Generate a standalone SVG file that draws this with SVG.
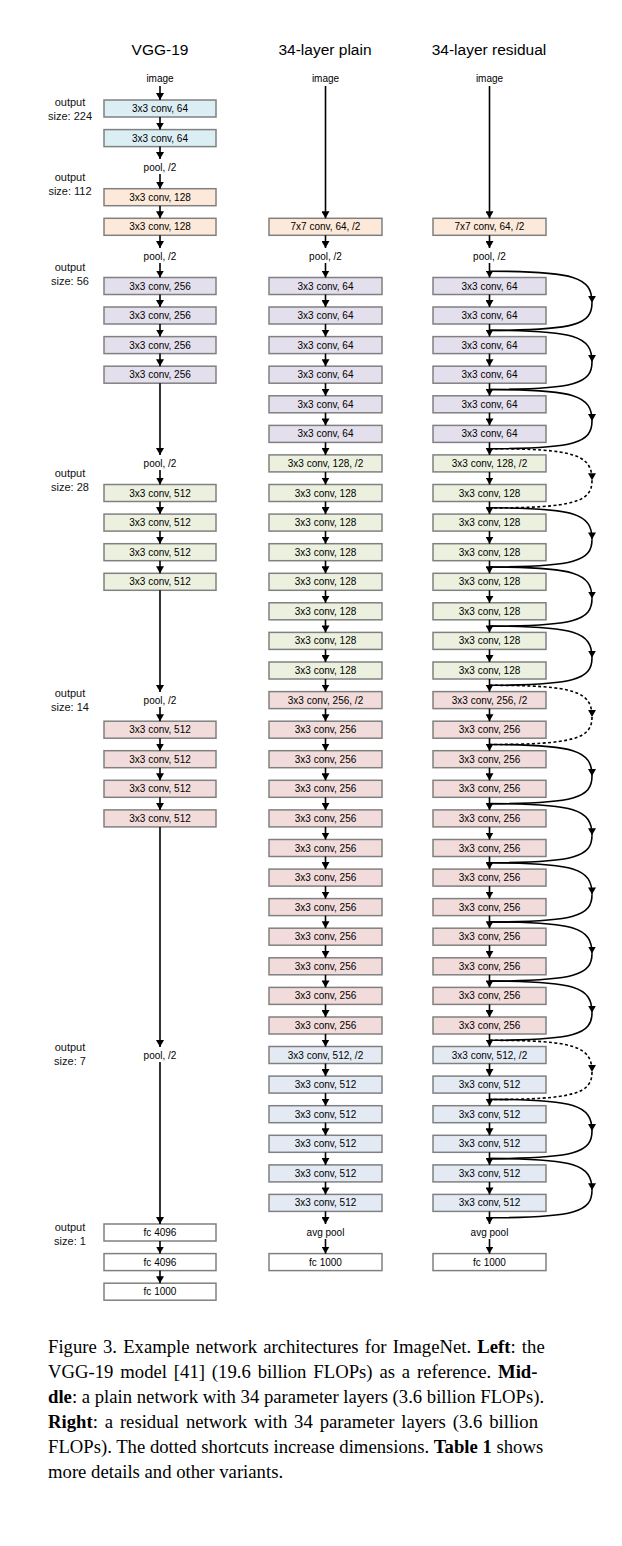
<svg xmlns="http://www.w3.org/2000/svg" width="622" height="1546" viewBox="0 0 622 1546">
<style>
.b{stroke:#808080;stroke-width:1.5}
.blue{fill:#dbeef4}.peach{fill:#fde9d9}.lav{fill:#e4dfec}.green{fill:#ebf1de}.pink{fill:#f2dcdb}.steel{fill:#e3eaf4}.white{fill:#ffffff}
.t{font-family:"Liberation Sans",Arial,sans-serif;font-size:10px;text-anchor:middle;fill:#000}
.lab{font-family:"Liberation Sans",Arial,sans-serif;font-size:11px;text-anchor:middle;fill:#111}
.title{font-family:"Liberation Sans",Arial,sans-serif;font-size:15.5px;text-anchor:middle;fill:#000}
.a{fill:none;stroke:#000;stroke-width:1.6;marker-end:url(#ah)}
.s{fill:none;stroke:#000;stroke-width:1.6}
.d{stroke-dasharray:3,2.4}
.cap{font-family:"Liberation Serif","Times New Roman",serif;font-size:18.7px;fill:#000}
.bold{font-weight:bold}
</style>
<defs>
<marker id="ah" viewBox="0 0 7 8" refX="7" refY="4" markerWidth="7" markerHeight="8" markerUnits="userSpaceOnUse" orient="auto"><path d="M0,0L7,4L0,8z" fill="#000"/></marker>
</defs>
<rect width="622" height="1546" fill="#fff"/>

<g id="titles">
<text class="title" x="160" y="55">VGG-19</text>
<text class="title" x="325" y="55">34-layer plain</text>
<text class="title" x="489" y="55">34-layer residual</text>
</g>

<g id="output-labels">
<text class="lab" x="70" y="105.5">output</text><text class="lab" x="70" y="119.5">size: 224</text>
<text class="lab" x="70" y="181">output</text><text class="lab" x="70" y="195">size: 112</text>
<text class="lab" x="70" y="270.5">output</text><text class="lab" x="70" y="284.5">size: 56</text>
<text class="lab" x="70" y="477">output</text><text class="lab" x="70" y="491">size: 28</text>
<text class="lab" x="70" y="697">output</text><text class="lab" x="70" y="711">size: 14</text>
<text class="lab" x="70" y="1051">output</text><text class="lab" x="70" y="1065">size: 7</text>
<text class="lab" x="70" y="1231">output</text><text class="lab" x="70" y="1245">size: 1</text>
</g>

<!-- VGG-19 column -->
<g id="vgg-image"><text class="t" x="160" y="82.4">image</text></g>
<g id="vgg-conv64-1"><rect class="b blue" x="104" y="100" width="112" height="17"/><text class="t" x="160" y="112">3x3 conv, 64</text></g>
<g id="vgg-conv64-2"><rect class="b blue" x="104" y="129.6" width="112" height="17"/><text class="t" x="160" y="141.6">3x3 conv, 64</text></g>
<g id="vgg-pool1"><text class="t" x="160" y="171.1">pool, /2</text></g>
<g id="vgg-conv128-1"><rect class="b peach" x="104" y="188.7" width="112" height="17"/><text class="t" x="160" y="200.7">3x3 conv, 128</text></g>
<g id="vgg-conv128-2"><rect class="b peach" x="104" y="218.3" width="112" height="17"/><text class="t" x="160" y="230.3">3x3 conv, 128</text></g>
<g id="vgg-pool2"><text class="t" x="160" y="259.9">pool, /2</text></g>
<g id="vgg-conv256-1"><rect class="b lav" x="104" y="277.5" width="112" height="17"/><text class="t" x="160" y="289.5">3x3 conv, 256</text></g>
<g id="vgg-conv256-2"><rect class="b lav" x="104" y="307" width="112" height="17"/><text class="t" x="160" y="319">3x3 conv, 256</text></g>
<g id="vgg-conv256-3"><rect class="b lav" x="104" y="336.6" width="112" height="17"/><text class="t" x="160" y="348.6">3x3 conv, 256</text></g>
<g id="vgg-conv256-4"><rect class="b lav" x="104" y="366.2" width="112" height="17"/><text class="t" x="160" y="378.2">3x3 conv, 256</text></g>
<g id="vgg-pool3"><text class="t" x="160" y="466.9">pool, /2</text></g>
<g id="vgg-conv512a-1"><rect class="b green" x="104" y="484.5" width="112" height="17"/><text class="t" x="160" y="496.5">3x3 conv, 512</text></g>
<g id="vgg-conv512a-2"><rect class="b green" x="104" y="514.1" width="112" height="17"/><text class="t" x="160" y="526.1">3x3 conv, 512</text></g>
<g id="vgg-conv512a-3"><rect class="b green" x="104" y="543.7" width="112" height="17"/><text class="t" x="160" y="555.7">3x3 conv, 512</text></g>
<g id="vgg-conv512a-4"><rect class="b green" x="104" y="573.3" width="112" height="17"/><text class="t" x="160" y="585.3">3x3 conv, 512</text></g>
<g id="vgg-pool4"><text class="t" x="160" y="703.6">pool, /2</text></g>
<g id="vgg-conv512b-1"><rect class="b pink" x="104" y="721.2" width="112" height="17"/><text class="t" x="160" y="733.2">3x3 conv, 512</text></g>
<g id="vgg-conv512b-2"><rect class="b pink" x="104" y="750.7" width="112" height="17"/><text class="t" x="160" y="762.7">3x3 conv, 512</text></g>
<g id="vgg-conv512b-3"><rect class="b pink" x="104" y="780.3" width="112" height="17"/><text class="t" x="160" y="792.3">3x3 conv, 512</text></g>
<g id="vgg-conv512b-4"><rect class="b pink" x="104" y="809.9" width="112" height="17"/><text class="t" x="160" y="821.9">3x3 conv, 512</text></g>
<g id="vgg-pool5"><text class="t" x="160" y="1058.5">pool, /2</text></g>
<g id="vgg-fc4096-1"><rect class="b white" x="104" y="1224" width="112" height="17"/><text class="t" x="160" y="1236">fc 4096</text></g>
<g id="vgg-fc4096-2"><rect class="b white" x="104" y="1253.6" width="112" height="17"/><text class="t" x="160" y="1265.6">fc 4096</text></g>
<g id="vgg-fc1000"><rect class="b white" x="104" y="1283.2" width="112" height="17"/><text class="t" x="160" y="1295.2">fc 1000</text></g>

<!-- Plain column -->
<g id="plain-image"><text class="t" x="325.5" y="82.4">image</text></g>
<g id="plain-conv7"><rect class="b peach" x="269" y="218.3" width="113" height="17"/><text class="t" x="325.5" y="230.3">7x7 conv, 64, /2</text></g>
<g id="plain-pool"><text class="t" x="325.5" y="259.9">pool, /2</text></g>
<g id="plain-c64-1"><rect class="b lav" x="269" y="277.5" width="113" height="17"/><text class="t" x="325.5" y="289.5">3x3 conv, 64</text></g>
<g id="plain-c64-2"><rect class="b lav" x="269" y="307" width="113" height="17"/><text class="t" x="325.5" y="319">3x3 conv, 64</text></g>
<g id="plain-c64-3"><rect class="b lav" x="269" y="336.6" width="113" height="17"/><text class="t" x="325.5" y="348.6">3x3 conv, 64</text></g>
<g id="plain-c64-4"><rect class="b lav" x="269" y="366.2" width="113" height="17"/><text class="t" x="325.5" y="378.2">3x3 conv, 64</text></g>
<g id="plain-c64-5"><rect class="b lav" x="269" y="395.8" width="113" height="17"/><text class="t" x="325.5" y="407.8">3x3 conv, 64</text></g>
<g id="plain-c64-6"><rect class="b lav" x="269" y="425.4" width="113" height="17"/><text class="t" x="325.5" y="437.4">3x3 conv, 64</text></g>
<g id="plain-c128-1"><rect class="b green" x="269" y="454.9" width="113" height="17"/><text class="t" x="325.5" y="466.9">3x3 conv, 128, /2</text></g>
<g id="plain-c128-2"><rect class="b green" x="269" y="484.5" width="113" height="17"/><text class="t" x="325.5" y="496.5">3x3 conv, 128</text></g>
<g id="plain-c128-3"><rect class="b green" x="269" y="514.1" width="113" height="17"/><text class="t" x="325.5" y="526.1">3x3 conv, 128</text></g>
<g id="plain-c128-4"><rect class="b green" x="269" y="543.7" width="113" height="17"/><text class="t" x="325.5" y="555.7">3x3 conv, 128</text></g>
<g id="plain-c128-5"><rect class="b green" x="269" y="573.3" width="113" height="17"/><text class="t" x="325.5" y="585.3">3x3 conv, 128</text></g>
<g id="plain-c128-6"><rect class="b green" x="269" y="602.8" width="113" height="17"/><text class="t" x="325.5" y="614.8">3x3 conv, 128</text></g>
<g id="plain-c128-7"><rect class="b green" x="269" y="632.4" width="113" height="17"/><text class="t" x="325.5" y="644.4">3x3 conv, 128</text></g>
<g id="plain-c128-8"><rect class="b green" x="269" y="662" width="113" height="17"/><text class="t" x="325.5" y="674">3x3 conv, 128</text></g>
<g id="plain-c256-1"><rect class="b pink" x="269" y="691.6" width="113" height="17"/><text class="t" x="325.5" y="703.6">3x3 conv, 256, /2</text></g>
<g id="plain-c256-2"><rect class="b pink" x="269" y="721.2" width="113" height="17"/><text class="t" x="325.5" y="733.2">3x3 conv, 256</text></g>
<g id="plain-c256-3"><rect class="b pink" x="269" y="750.7" width="113" height="17"/><text class="t" x="325.5" y="762.7">3x3 conv, 256</text></g>
<g id="plain-c256-4"><rect class="b pink" x="269" y="780.3" width="113" height="17"/><text class="t" x="325.5" y="792.3">3x3 conv, 256</text></g>
<g id="plain-c256-5"><rect class="b pink" x="269" y="809.9" width="113" height="17"/><text class="t" x="325.5" y="821.9">3x3 conv, 256</text></g>
<g id="plain-c256-6"><rect class="b pink" x="269" y="839.5" width="113" height="17"/><text class="t" x="325.5" y="851.5">3x3 conv, 256</text></g>
<g id="plain-c256-7"><rect class="b pink" x="269" y="869.1" width="113" height="17"/><text class="t" x="325.5" y="881.1">3x3 conv, 256</text></g>
<g id="plain-c256-8"><rect class="b pink" x="269" y="898.6" width="113" height="17"/><text class="t" x="325.5" y="910.6">3x3 conv, 256</text></g>
<g id="plain-c256-9"><rect class="b pink" x="269" y="928.2" width="113" height="17"/><text class="t" x="325.5" y="940.2">3x3 conv, 256</text></g>
<g id="plain-c256-10"><rect class="b pink" x="269" y="957.8" width="113" height="17"/><text class="t" x="325.5" y="969.8">3x3 conv, 256</text></g>
<g id="plain-c256-11"><rect class="b pink" x="269" y="987.4" width="113" height="17"/><text class="t" x="325.5" y="999.4">3x3 conv, 256</text></g>
<g id="plain-c256-12"><rect class="b pink" x="269" y="1017" width="113" height="17"/><text class="t" x="325.5" y="1029">3x3 conv, 256</text></g>
<g id="plain-c512-1"><rect class="b steel" x="269" y="1046.5" width="113" height="17"/><text class="t" x="325.5" y="1058.5">3x3 conv, 512, /2</text></g>
<g id="plain-c512-2"><rect class="b steel" x="269" y="1076.1" width="113" height="17"/><text class="t" x="325.5" y="1088.1">3x3 conv, 512</text></g>
<g id="plain-c512-3"><rect class="b steel" x="269" y="1105.7" width="113" height="17"/><text class="t" x="325.5" y="1117.7">3x3 conv, 512</text></g>
<g id="plain-c512-4"><rect class="b steel" x="269" y="1135.3" width="113" height="17"/><text class="t" x="325.5" y="1147.3">3x3 conv, 512</text></g>
<g id="plain-c512-5"><rect class="b steel" x="269" y="1164.9" width="113" height="17"/><text class="t" x="325.5" y="1176.9">3x3 conv, 512</text></g>
<g id="plain-c512-6"><rect class="b steel" x="269" y="1194.4" width="113" height="17"/><text class="t" x="325.5" y="1206.4">3x3 conv, 512</text></g>
<g id="plain-avgpool"><text class="t" x="325.5" y="1236">avg pool</text></g>
<g id="plain-fc1000"><rect class="b white" x="269" y="1253.6" width="113" height="17"/><text class="t" x="325.5" y="1265.6">fc 1000</text></g>

<!-- Residual column -->
<g id="res-image"><text class="t" x="489.5" y="82.4">image</text></g>
<g id="res-conv7"><rect class="b peach" x="433" y="218.3" width="113" height="17"/><text class="t" x="489.5" y="230.3">7x7 conv, 64, /2</text></g>
<g id="res-pool"><text class="t" x="489.5" y="259.9">pool, /2</text></g>
<g id="res-c64-1"><rect class="b lav" x="433" y="277.5" width="113" height="17"/><text class="t" x="489.5" y="289.5">3x3 conv, 64</text></g>
<g id="res-c64-2"><rect class="b lav" x="433" y="307" width="113" height="17"/><text class="t" x="489.5" y="319">3x3 conv, 64</text></g>
<g id="res-c64-3"><rect class="b lav" x="433" y="336.6" width="113" height="17"/><text class="t" x="489.5" y="348.6">3x3 conv, 64</text></g>
<g id="res-c64-4"><rect class="b lav" x="433" y="366.2" width="113" height="17"/><text class="t" x="489.5" y="378.2">3x3 conv, 64</text></g>
<g id="res-c64-5"><rect class="b lav" x="433" y="395.8" width="113" height="17"/><text class="t" x="489.5" y="407.8">3x3 conv, 64</text></g>
<g id="res-c64-6"><rect class="b lav" x="433" y="425.4" width="113" height="17"/><text class="t" x="489.5" y="437.4">3x3 conv, 64</text></g>
<g id="res-c128-1"><rect class="b green" x="433" y="454.9" width="113" height="17"/><text class="t" x="489.5" y="466.9">3x3 conv, 128, /2</text></g>
<g id="res-c128-2"><rect class="b green" x="433" y="484.5" width="113" height="17"/><text class="t" x="489.5" y="496.5">3x3 conv, 128</text></g>
<g id="res-c128-3"><rect class="b green" x="433" y="514.1" width="113" height="17"/><text class="t" x="489.5" y="526.1">3x3 conv, 128</text></g>
<g id="res-c128-4"><rect class="b green" x="433" y="543.7" width="113" height="17"/><text class="t" x="489.5" y="555.7">3x3 conv, 128</text></g>
<g id="res-c128-5"><rect class="b green" x="433" y="573.3" width="113" height="17"/><text class="t" x="489.5" y="585.3">3x3 conv, 128</text></g>
<g id="res-c128-6"><rect class="b green" x="433" y="602.8" width="113" height="17"/><text class="t" x="489.5" y="614.8">3x3 conv, 128</text></g>
<g id="res-c128-7"><rect class="b green" x="433" y="632.4" width="113" height="17"/><text class="t" x="489.5" y="644.4">3x3 conv, 128</text></g>
<g id="res-c128-8"><rect class="b green" x="433" y="662" width="113" height="17"/><text class="t" x="489.5" y="674">3x3 conv, 128</text></g>
<g id="res-c256-1"><rect class="b pink" x="433" y="691.6" width="113" height="17"/><text class="t" x="489.5" y="703.6">3x3 conv, 256, /2</text></g>
<g id="res-c256-2"><rect class="b pink" x="433" y="721.2" width="113" height="17"/><text class="t" x="489.5" y="733.2">3x3 conv, 256</text></g>
<g id="res-c256-3"><rect class="b pink" x="433" y="750.7" width="113" height="17"/><text class="t" x="489.5" y="762.7">3x3 conv, 256</text></g>
<g id="res-c256-4"><rect class="b pink" x="433" y="780.3" width="113" height="17"/><text class="t" x="489.5" y="792.3">3x3 conv, 256</text></g>
<g id="res-c256-5"><rect class="b pink" x="433" y="809.9" width="113" height="17"/><text class="t" x="489.5" y="821.9">3x3 conv, 256</text></g>
<g id="res-c256-6"><rect class="b pink" x="433" y="839.5" width="113" height="17"/><text class="t" x="489.5" y="851.5">3x3 conv, 256</text></g>
<g id="res-c256-7"><rect class="b pink" x="433" y="869.1" width="113" height="17"/><text class="t" x="489.5" y="881.1">3x3 conv, 256</text></g>
<g id="res-c256-8"><rect class="b pink" x="433" y="898.6" width="113" height="17"/><text class="t" x="489.5" y="910.6">3x3 conv, 256</text></g>
<g id="res-c256-9"><rect class="b pink" x="433" y="928.2" width="113" height="17"/><text class="t" x="489.5" y="940.2">3x3 conv, 256</text></g>
<g id="res-c256-10"><rect class="b pink" x="433" y="957.8" width="113" height="17"/><text class="t" x="489.5" y="969.8">3x3 conv, 256</text></g>
<g id="res-c256-11"><rect class="b pink" x="433" y="987.4" width="113" height="17"/><text class="t" x="489.5" y="999.4">3x3 conv, 256</text></g>
<g id="res-c256-12"><rect class="b pink" x="433" y="1017" width="113" height="17"/><text class="t" x="489.5" y="1029">3x3 conv, 256</text></g>
<g id="res-c512-1"><rect class="b steel" x="433" y="1046.5" width="113" height="17"/><text class="t" x="489.5" y="1058.5">3x3 conv, 512, /2</text></g>
<g id="res-c512-2"><rect class="b steel" x="433" y="1076.1" width="113" height="17"/><text class="t" x="489.5" y="1088.1">3x3 conv, 512</text></g>
<g id="res-c512-3"><rect class="b steel" x="433" y="1105.7" width="113" height="17"/><text class="t" x="489.5" y="1117.7">3x3 conv, 512</text></g>
<g id="res-c512-4"><rect class="b steel" x="433" y="1135.3" width="113" height="17"/><text class="t" x="489.5" y="1147.3">3x3 conv, 512</text></g>
<g id="res-c512-5"><rect class="b steel" x="433" y="1164.9" width="113" height="17"/><text class="t" x="489.5" y="1176.9">3x3 conv, 512</text></g>
<g id="res-c512-6"><rect class="b steel" x="433" y="1194.4" width="113" height="17"/><text class="t" x="489.5" y="1206.4">3x3 conv, 512</text></g>
<g id="res-avgpool"><text class="t" x="489.5" y="1236">avg pool</text></g>
<g id="res-fc1000"><rect class="b white" x="433" y="1253.6" width="113" height="17"/><text class="t" x="489.5" y="1265.6">fc 1000</text></g>

<g id="connectors">
<!-- VGG -->
<path class="a" d="M160,86V100"/>
<path class="a" d="M160,117V129.6"/>
<path class="a" d="M160,146.6V159"/>
<path class="a" d="M160,174V188.7"/>
<path class="a" d="M160,205.7V218.3"/>
<path class="a" d="M160,235.3V248"/>
<path class="a" d="M160,263V277.5"/>
<path class="a" d="M160,294.5V307"/>
<path class="a" d="M160,324V336.6"/>
<path class="a" d="M160,353.6V366.2"/>
<path class="a" d="M160,383.2V455"/>
<path class="a" d="M160,470V484.5"/>
<path class="a" d="M160,501.5V514.1"/>
<path class="a" d="M160,531.1V543.7"/>
<path class="a" d="M160,560.7V573.3"/>
<path class="a" d="M160,590.3V692"/>
<path class="a" d="M160,707V721.2"/>
<path class="a" d="M160,738.2V750.7"/>
<path class="a" d="M160,767.7V780.3"/>
<path class="a" d="M160,797.3V809.9"/>
<path class="a" d="M160,826.9V1047"/>
<path class="a" d="M160,1062V1224"/>
<path class="a" d="M160,1241V1253.6"/>
<path class="a" d="M160,1270.6V1283.2"/>
<!-- plain -->
<path class="a" d="M325.5,86V218.3"/>
<path class="a" d="M325.5,235.3V248"/>
<path class="a" d="M325.5,263V277.5"/>
<path class="a" d="M325.5,294.5V307"/>
<path class="a" d="M325.5,324V336.6"/>
<path class="a" d="M325.5,353.6V366.2"/>
<path class="a" d="M325.5,383.2V395.8"/>
<path class="a" d="M325.5,412.8V425.4"/>
<path class="a" d="M325.5,442.4V454.9"/>
<path class="a" d="M325.5,471.9V484.5"/>
<path class="a" d="M325.5,501.5V514.1"/>
<path class="a" d="M325.5,531.1V543.7"/>
<path class="a" d="M325.5,560.7V573.3"/>
<path class="a" d="M325.5,590.3V602.8"/>
<path class="a" d="M325.5,619.8V632.4"/>
<path class="a" d="M325.5,649.4V662"/>
<path class="a" d="M325.5,679V691.6"/>
<path class="a" d="M325.5,708.6V721.2"/>
<path class="a" d="M325.5,738.2V750.7"/>
<path class="a" d="M325.5,767.7V780.3"/>
<path class="a" d="M325.5,797.3V809.9"/>
<path class="a" d="M325.5,826.9V839.5"/>
<path class="a" d="M325.5,856.5V869.1"/>
<path class="a" d="M325.5,886.1V898.6"/>
<path class="a" d="M325.5,915.6V928.2"/>
<path class="a" d="M325.5,945.2V957.8"/>
<path class="a" d="M325.5,974.8V987.4"/>
<path class="a" d="M325.5,1004.4V1017"/>
<path class="a" d="M325.5,1034V1046.5"/>
<path class="a" d="M325.5,1063.5V1076.1"/>
<path class="a" d="M325.5,1093.1V1105.7"/>
<path class="a" d="M325.5,1122.7V1135.3"/>
<path class="a" d="M325.5,1152.3V1164.9"/>
<path class="a" d="M325.5,1181.9V1194.4"/>
<path class="a" d="M325.5,1211.4V1224"/>
<path class="a" d="M325.5,1239V1253.6"/>
<!-- residual main path -->
<path class="a" d="M489.5,86V218.3"/>
<path class="a" d="M489.5,235.3V248"/>
<path class="a" d="M489.5,263V277.5"/>
<path class="a" d="M489.5,294.5V307"/>
<path class="a" d="M489.5,324V336.6"/>
<path class="a" d="M489.5,353.6V366.2"/>
<path class="a" d="M489.5,383.2V395.8"/>
<path class="a" d="M489.5,412.8V425.4"/>
<path class="a" d="M489.5,442.4V454.9"/>
<path class="a" d="M489.5,471.9V484.5"/>
<path class="a" d="M489.5,501.5V514.1"/>
<path class="a" d="M489.5,531.1V543.7"/>
<path class="a" d="M489.5,560.7V573.3"/>
<path class="a" d="M489.5,590.3V602.8"/>
<path class="a" d="M489.5,619.8V632.4"/>
<path class="a" d="M489.5,649.4V662"/>
<path class="a" d="M489.5,679V691.6"/>
<path class="a" d="M489.5,708.6V721.2"/>
<path class="a" d="M489.5,738.2V750.7"/>
<path class="a" d="M489.5,767.7V780.3"/>
<path class="a" d="M489.5,797.3V809.9"/>
<path class="a" d="M489.5,826.9V839.5"/>
<path class="a" d="M489.5,856.5V869.1"/>
<path class="a" d="M489.5,886.1V898.6"/>
<path class="a" d="M489.5,915.6V928.2"/>
<path class="a" d="M489.5,945.2V957.8"/>
<path class="a" d="M489.5,974.8V987.4"/>
<path class="a" d="M489.5,1004.4V1017"/>
<path class="a" d="M489.5,1034V1046.5"/>
<path class="a" d="M489.5,1063.5V1076.1"/>
<path class="a" d="M489.5,1093.1V1105.7"/>
<path class="a" d="M489.5,1122.7V1135.3"/>
<path class="a" d="M489.5,1152.3V1164.9"/>
<path class="a" d="M489.5,1181.9V1194.4"/>
<path class="a" d="M489.5,1211.4V1224"/>
<path class="a" d="M489.5,1239V1253.6"/>
<!-- shortcuts -->
<g transform="translate(0,271.2)"><path class="a" d="M489.5,0C575,0 592,6 592,31.6"/><path class="s" d="M592,31.6C592,53 575,59.2 489.5,59.2"/></g>
<g transform="translate(0,330.3)"><path class="a" d="M489.5,0C575,0 592,6 592,31.6"/><path class="s" d="M592,31.6C592,53 575,59.2 489.5,59.2"/></g>
<g transform="translate(0,389.5)"><path class="a" d="M489.5,0C575,0 592,6 592,31.6"/><path class="s" d="M592,31.6C592,53 575,59.2 489.5,59.2"/></g>
<g transform="translate(0,448.7)"><path class="a d" d="M489.5,0C575,0 592,6 592,31.6"/><path class="s d" d="M592,31.6C592,53 575,59.2 489.5,59.2"/></g>
<g transform="translate(0,507.8)"><path class="a" d="M489.5,0C575,0 592,6 592,31.6"/><path class="s" d="M592,31.6C592,53 575,59.2 489.5,59.2"/></g>
<g transform="translate(0,567)"><path class="a" d="M489.5,0C575,0 592,6 592,31.6"/><path class="s" d="M592,31.6C592,53 575,59.2 489.5,59.2"/></g>
<g transform="translate(0,626.1)"><path class="a" d="M489.5,0C575,0 592,6 592,31.6"/><path class="s" d="M592,31.6C592,53 575,59.2 489.5,59.2"/></g>
<g transform="translate(0,685.3)"><path class="a d" d="M489.5,0C575,0 592,6 592,31.6"/><path class="s d" d="M592,31.6C592,53 575,59.2 489.5,59.2"/></g>
<g transform="translate(0,744.5)"><path class="a" d="M489.5,0C575,0 592,6 592,31.6"/><path class="s" d="M592,31.6C592,53 575,59.2 489.5,59.2"/></g>
<g transform="translate(0,803.6)"><path class="a" d="M489.5,0C575,0 592,6 592,31.6"/><path class="s" d="M592,31.6C592,53 575,59.2 489.5,59.2"/></g>
<g transform="translate(0,862.8)"><path class="a" d="M489.5,0C575,0 592,6 592,31.6"/><path class="s" d="M592,31.6C592,53 575,59.2 489.5,59.2"/></g>
<g transform="translate(0,921.9)"><path class="a" d="M489.5,0C575,0 592,6 592,31.6"/><path class="s" d="M592,31.6C592,53 575,59.2 489.5,59.2"/></g>
<g transform="translate(0,981.1)"><path class="a" d="M489.5,0C575,0 592,6 592,31.6"/><path class="s" d="M592,31.6C592,53 575,59.2 489.5,59.2"/></g>
<g transform="translate(0,1040.3)"><path class="a d" d="M489.5,0C575,0 592,6 592,31.6"/><path class="s d" d="M592,31.6C592,53 575,59.2 489.5,59.2"/></g>
<g transform="translate(0,1099.4)"><path class="a" d="M489.5,0C575,0 592,6 592,31.6"/><path class="s" d="M592,31.6C592,53 575,59.2 489.5,59.2"/></g>
<g transform="translate(0,1158.6)"><path class="a" d="M489.5,0C575,0 592,6 592,31.6"/><path class="s" d="M592,31.6C592,53 575,59.2 489.5,59.2"/></g>
</g>

<g id="caption">
<text class="cap" x="48" y="1353" word-spacing="1.5">Figure 3. Example network architectures for ImageNet. <tspan class="bold">Left</tspan>: the</text>
<text class="cap" x="48" y="1378" word-spacing="2.2">VGG-19 model [41] (19.6 billion FLOPs) as a reference. <tspan class="bold">Mid-</tspan></text>
<text class="cap" x="48" y="1403"><tspan class="bold">dle</tspan>: a plain network with 34 parameter layers (3.6 billion FLOPs).</text>
<text class="cap" x="48" y="1428" word-spacing="2.2"><tspan class="bold">Right</tspan>: a residual network with 34 parameter layers (3.6 billion</text>
<text class="cap" x="48" y="1453">FLOPs). The dotted shortcuts increase dimensions. <tspan class="bold">Table 1</tspan> shows</text>
<text class="cap" x="48" y="1478">more details and other variants.</text>
</g>
</svg>
